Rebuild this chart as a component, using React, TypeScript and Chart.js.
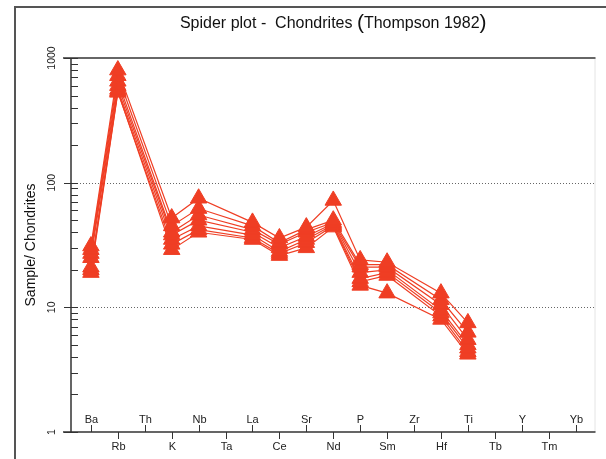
import React, { useEffect, useRef } from "react";
import { Chart, registerables } from "chart.js";
Chart.register(...registerables);

const elements = ["Ba", "Rb", "Th", "K", "Nb", "Ta", "La", "Ce", "Sr", "Nd", "P", "Sm", "Zr", "Hf", "Ti", "Tb", "Y", "Tm", "Yb"];
const yMajorTicks = [1, 10, 100, 1000];
const gridValues = [10, 100];
const titleParts = ["Spider plot -  Chondrites ", "(", "Thompson 1982", ")"];
const yTitle = "Sample/ Chondrites";

// null = element not analysed
const sample1 = [31, 800, null, 52, 75, null, 48, 36, 44, 72, 24, 23, null, 13, 7.5, null, null, null, null];
const sample2 = [29, 720, null, 45, 62, null, 45, 33, 42, 50, 22, 22, null, 11.5, 6.3, null, null, null, null];
const sample3 = [27, 650, null, 40, 55, null, 42, 32, 40, 48, 21, 21, null, 10.5, 5.5, null, null, null, null];
const sample4 = [25, 600, null, 38, 50, null, 40, 30, 37, 47, 19, 20, null, 9.5, 5.0, null, null, null, null];
const sample5 = [21, 560, null, 35, 45, null, 38, 28, 35, 46, 17, 19, null, 9, 4.7, null, null, null, null];
const sample6 = [19, 530, null, 32, 42, null, 36, 27, 33, 45, 16, 18, null, 8.5, 4.4, null, null, null, null];
const sample7 = [20, 540, null, 29, 40, null, 35, 26, 30, 44, 15, 13, null, 8, 4.2, null, null, null, null];
const samples = [sample1, sample2, sample3, sample4, sample5, sample6, sample7];

const RED = "#EF3E24";
const FONT = "'Liberation Sans', Arial, sans-serif";

const decorPlugin = {
  id: "decor",
  beforeDraw(chart: any) {
    const ctx = chart.ctx;
    ctx.save();
    ctx.fillStyle = "#fff";
    ctx.fillRect(0, 0, chart.width, chart.height);
    ctx.restore();
  },
  beforeDatasetsDraw(chart: any) {
    const ctx = chart.ctx;
    const x = chart.scales.x;
    const y = chart.scales.y;
    const { left, right, top, bottom } = chart.chartArea;
    ctx.save();
    // outer frame
    ctx.strokeStyle = "#555";
    ctx.lineWidth = 2;
    ctx.beginPath();
    ctx.moveTo(15, chart.height);
    ctx.lineTo(15, 7);
    ctx.lineTo(chart.width, 7);
    ctx.stroke();
    ctx.strokeStyle = "#e4e4e4";
    ctx.lineWidth = 1;
    ctx.beginPath();
    ctx.moveTo(right - 0.5, top);
    ctx.lineTo(right - 0.5, bottom);
    ctx.stroke();
    // dotted grid
    ctx.strokeStyle = "#666";
    ctx.lineWidth = 1;
    ctx.setLineDash([1, 2]);
    gridValues.forEach((v) => {
      const py = Math.round(y.getPixelForValue(v)) + 0.5;
      ctx.beginPath();
      ctx.moveTo(left, py);
      ctx.lineTo(right, py);
      ctx.stroke();
    });
    ctx.setLineDash([]);
    // top frame
    ctx.strokeStyle = "#666";
    ctx.lineWidth = 2;
    ctx.beginPath();
    ctx.moveTo(left - 8, top);
    ctx.lineTo(right, top);
    ctx.stroke();
    // axes
    ctx.strokeStyle = "#333";
    ctx.lineWidth = 1.5;
    ctx.beginPath();
    ctx.moveTo(left, top);
    ctx.lineTo(left, bottom);
    ctx.moveTo(left - 8, bottom);
    ctx.lineTo(right, bottom);
    ctx.stroke();
    // y ticks
    ctx.lineWidth = 1;
    ctx.strokeStyle = "#333";
    for (let d = 0; d < yMajorTicks.length; d++) {
      const base = yMajorTicks[d];
      const py = Math.round(y.getPixelForValue(base)) + 0.5;
      ctx.beginPath();
      ctx.moveTo(left - 7, py);
      ctx.lineTo(left + 7, py);
      ctx.stroke();
      if (d < yMajorTicks.length - 1) {
        for (let m = 2; m <= 9; m++) {
          const pm = Math.round(y.getPixelForValue(base * m)) + 0.5;
          ctx.beginPath();
          ctx.moveTo(left, pm);
          ctx.lineTo(left + 7, pm);
          ctx.stroke();
        }
      }
    }
    // y tick labels (rotated)
    ctx.fillStyle = "#222";
    ctx.font = `10.5px ${FONT}`;
    ctx.textAlign = "center";
    ctx.textBaseline = "middle";
    yMajorTicks.forEach((v) => {
      const py = y.getPixelForValue(v);
      ctx.save();
      ctx.translate(left - 19, py);
      ctx.rotate(-Math.PI / 2);
      ctx.fillText(String(v), 0, 0);
      ctx.restore();
    });
    // y title
    ctx.save();
    ctx.font = `14px ${FONT}`;
    ctx.fillStyle = "#111";
    ctx.translate(31, (top + bottom) / 2);
    ctx.rotate(-Math.PI / 2);
    ctx.fillText(yTitle, 0, 0);
    ctx.restore();
    // x ticks and labels alternating
    ctx.font = `11px ${FONT}`;
    ctx.fillStyle = "#222";
    elements.forEach((el, i) => {
      const px = Math.round(x.getPixelForValue(i)) + 0.5;
      const up = i % 2 === 0;
      ctx.beginPath();
      ctx.moveTo(px, bottom);
      ctx.lineTo(px, up ? bottom - 7 : bottom + 7);
      ctx.stroke();
      ctx.fillText(el, px, up ? bottom - 12 : bottom + 15);
    });
    // title
    ctx.textAlign = "left";
    ctx.textBaseline = "alphabetic";
    const sizes = [16, 21, 16, 21];
    let total = 0;
    const widths = titleParts.map((p, k) => {
      ctx.font = `${sizes[k]}px ${FONT}`;
      const w = ctx.measureText(p).width;
      total += w;
      return w;
    });
    let cx = (left + right) / 2 - total / 2;
    titleParts.forEach((p, k) => {
      ctx.font = `${sizes[k]}px ${FONT}`;
      ctx.fillStyle = "#111";
      ctx.fillText(p, cx, k % 2 === 1 ? 29 : 28);
      cx += widths[k];
    });
    ctx.restore();
  },
};

export default function App() {
  const ref = useRef<HTMLCanvasElement | null>(null);
  useEffect(() => {
    if (!ref.current) return;
    const datasets = samples.map((s, k) => ({
      label: `Sample ${k + 1}`,
      data: s
        .map((v, i) => (v == null ? null : { x: i, y: v }))
        .filter((p) => p !== null) as { x: number; y: number }[],
      borderColor: RED,
      backgroundColor: RED,
      borderWidth: 1.2,
      pointStyle: "triangle" as const,
      pointRadius: 9.5,
      pointBorderWidth: 1,
      pointBackgroundColor: RED,
      pointBorderColor: RED,
      showLine: true,
      clip: false as any,
    }));
    const chart = new Chart(ref.current, {
      type: "scatter",
      data: { datasets },
      options: {
        animation: false,
        responsive: false,
        devicePixelRatio: 1,
        layout: { padding: { left: 71, top: 58, right: 9, bottom: 27 } },
        plugins: { legend: { display: false }, title: { display: false }, tooltip: { enabled: false } },
        scales: {
          x: { type: "linear", min: -0.74, max: 18.74, display: false },
          y: { type: "logarithmic", min: 1, max: 1000, display: false },
        },
      },
      plugins: [decorPlugin],
    });
    return () => chart.destroy();
  }, []);
  return (
    <div style={{ position: "fixed", left: 0, top: 0, width: 606, height: 459, background: "#fff" }}>
      <canvas ref={ref} width={606} height={459} style={{ width: 606, height: 459 }} />
    </div>
  );
}
